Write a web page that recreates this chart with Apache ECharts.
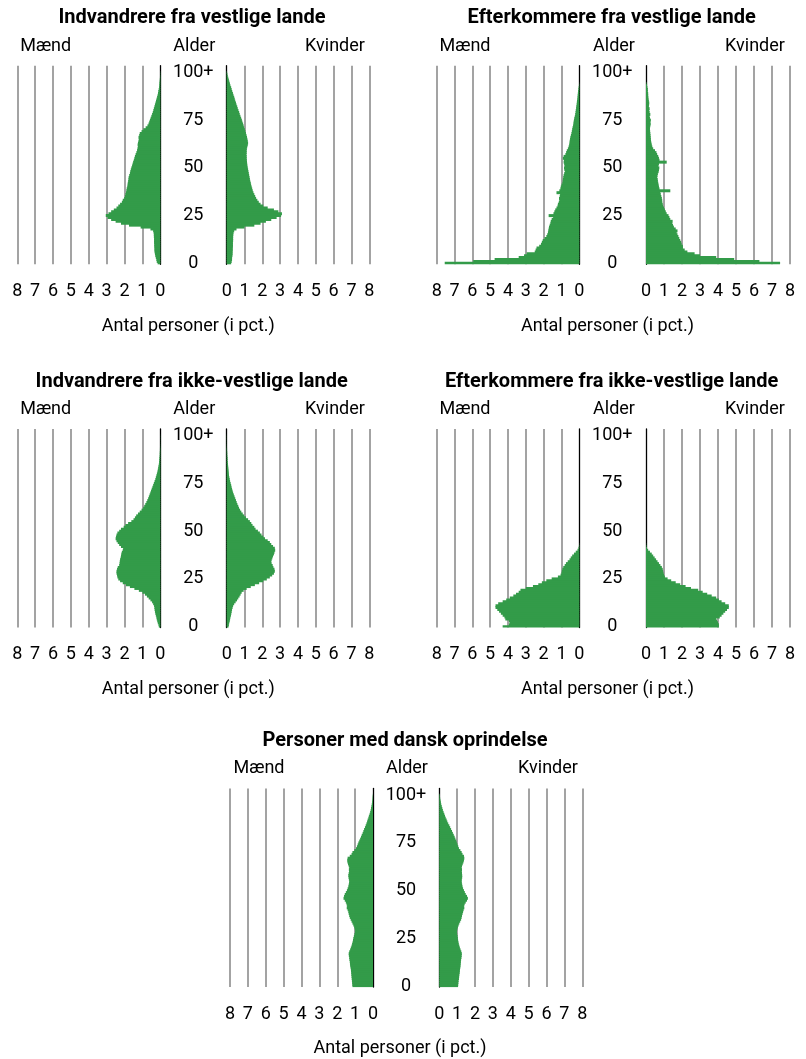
<!DOCTYPE html>
<html>
<head>
<meta charset="utf-8">
<script src="https://cdn.jsdelivr.net/npm/echarts@6/dist/echarts.min.js"></script>
<style>
html,body{margin:0;padding:0;background:#fff;}
#c{width:806px;height:1059px;}
</style>
</head>
<body>
<div id="c"></div>
<script>
// ---------- DATA ----------
var ages = [];
for (var a = 0; a <= 100; a++) ages.push(a === 100 ? '100+' : String(a));
var xTicks = [0, 1, 2, 3, 4, 5, 6, 7, 8];
var titles = ['Indvandrere fra vestlige lande', 'Efterkommere fra vestlige lande',
  'Indvandrere fra ikke-vestlige lande', 'Efterkommere fra ikke-vestlige lande',
  'Personer med dansk oprindelse'];
var labelMale = 'Mænd', labelAge = 'Alder', labelFemale = 'Kvinder', labelX = 'Antal personer (i pct.)';

var p1Male = [0.15,0.2,0.22,0.25,0.28,0.3,0.32,0.33,0.33,0.34,
0.34,0.35,0.35,0.35,0.36,0.36,0.37,0.4,0.55,1.1,
1.75,2.2,2.5,2.75,2.95,3.05,2.9,2.75,2.6,2.45,
2.35,2.25,2.15,2.1,2.02,1.98,1.95,1.92,1.9,1.88,
1.85,1.83,1.82,1.8,1.78,1.77,1.74,1.7,1.68,1.65,
1.62,1.58,1.55,1.52,1.48,1.45,1.42,1.38,1.34,1.3,
1.28,1.25,1.27,1.25,1.22,1.2,1.22,1.18,1.15,1.05,
0.95,0.82,0.72,0.66,0.62,0.58,0.54,0.5,0.46,0.42,
0.39,0.36,0.33,0.3,0.27,0.24,0.21,0.18,0.15,0.13,
0.11,0.09,0.07,0.06,0.05,0.04,0.03,0.02,0.015,0.01,
0.01];
var p1Female = [0.25,0.28,0.3,0.3,0.32,0.33,0.33,0.34,0.34,0.35,
0.35,0.35,0.36,0.36,0.36,0.37,0.38,0.42,0.55,1.0,
1.55,1.9,2.2,2.5,2.8,3.05,3.1,2.9,2.65,2.3,
2.05,1.9,1.8,1.72,1.65,1.6,1.55,1.5,1.46,1.43,
1.4,1.37,1.35,1.32,1.3,1.28,1.26,1.24,1.22,1.2,
1.18,1.16,1.15,1.14,1.13,1.12,1.12,1.11,1.12,1.12,
1.13,1.15,1.18,1.2,1.18,1.16,1.14,1.11,1.08,1.05,
1.02,0.98,0.95,0.92,0.88,0.85,0.81,0.77,0.73,0.7,
0.66,0.62,0.59,0.55,0.52,0.48,0.45,0.42,0.38,0.35,
0.31,0.28,0.25,0.21,0.18,0.15,0.12,0.09,0.06,0.04,
0.02];
var p2Male = [7.55,5.95,4.75,3.4,3.1,2.95,2.5,2.45,2.4,2.25,
2.15,2.1,2.05,1.95,1.85,1.8,1.76,1.74,1.72,1.7,
1.66,1.62,1.6,1.55,1.47,1.72,1.45,1.4,1.35,1.28,
1.22,1.2,1.15,1.12,1.14,1.1,1.08,1.28,1.12,1.06,
1.04,1.0,0.95,0.93,0.92,0.9,0.88,0.85,0.8,0.84,
0.86,0.82,0.85,0.88,0.86,0.92,0.88,0.78,0.74,0.7,
0.64,0.6,0.57,0.55,0.54,0.52,0.5,0.47,0.44,0.42,
0.4,0.38,0.35,0.33,0.32,0.3,0.28,0.25,0.23,0.21,
0.2,0.18,0.17,0.15,0.14,0.13,0.11,0.1,0.09,0.08,
0.07,0.05,0.04,0.02,0.01,0,0,0,0,0,
0];
var p2Female = [7.45,6.3,4.9,3.9,3.0,2.7,2.3,2.15,2.05,2.05,
1.98,1.95,1.9,1.85,1.8,1.75,1.7,1.75,1.65,1.55,
1.5,1.45,1.48,1.35,1.3,1.25,1.15,1.1,1.05,1.0,
0.95,0.93,0.9,0.9,0.88,0.85,0.82,0.8,1.35,0.75,
0.72,0.7,0.68,0.66,0.65,0.62,0.64,0.66,0.7,0.72,
0.74,0.68,0.72,1.15,0.75,0.72,0.68,0.62,0.58,0.5,
0.4,0.35,0.32,0.3,0.28,0.27,0.26,0.25,0.24,0.23,
0.22,0.22,0.24,0.26,0.24,0.27,0.22,0.2,0.24,0.2,
0.18,0.2,0.16,0.17,0.18,0.16,0.14,0.13,0.12,0.12,
0.1,0.1,0.08,0.06,0.03,0,0,0,0,0,
0];
var p3Male = [0.08,0.1,0.14,0.17,0.2,0.22,0.25,0.28,0.3,0.32,
0.33,0.35,0.4,0.46,0.55,0.65,0.75,0.86,1.0,1.2,
1.45,1.7,1.92,2.1,2.25,2.35,2.4,2.42,2.45,2.45,
2.42,2.38,2.3,2.28,2.27,2.25,2.22,2.2,2.18,2.15,
2.1,2.08,2.2,2.3,2.38,2.45,2.5,2.48,2.45,2.4,
2.3,2.2,2.05,1.95,1.8,1.62,1.5,1.42,1.35,1.25,
1.15,1.05,0.96,0.9,0.84,0.78,0.73,0.68,0.64,0.6,
0.56,0.52,0.48,0.44,0.4,0.36,0.32,0.28,0.25,0.22,
0.19,0.16,0.14,0.12,0.1,0.08,0.07,0.06,0.05,0.04,
0.03,0.03,0.02,0.02,0.01,0.01,0.005,0.005,0.005,0.005,
0.005];
var p3Female = [0.1,0.12,0.14,0.17,0.19,0.21,0.24,0.26,0.28,0.3,
0.33,0.36,0.42,0.5,0.58,0.65,0.72,0.78,0.84,0.95,
1.12,1.35,1.58,1.82,2.05,2.25,2.42,2.55,2.65,2.7,
2.68,2.62,2.58,2.52,2.5,2.52,2.56,2.6,2.65,2.68,
2.72,2.7,2.6,2.5,2.42,2.3,2.15,2.05,1.95,1.86,
1.75,1.62,1.55,1.45,1.38,1.3,1.2,1.08,0.98,0.9,
0.82,0.75,0.69,0.65,0.6,0.56,0.52,0.48,0.44,0.4,
0.36,0.33,0.3,0.27,0.25,0.22,0.19,0.17,0.15,0.13,
0.12,0.11,0.1,0.09,0.08,0.07,0.06,0.05,0.05,0.04,
0.03,0.03,0.02,0.02,0.01,0.01,0.005,0.005,0.005,0.005,
0.005];
var p4Male = [4.3,3.95,3.9,3.95,4.15,4.2,4.3,4.4,4.5,4.6,
4.7,4.7,4.55,4.3,4.1,3.9,3.7,3.55,3.4,3.3,
3.0,2.6,2.3,2.1,1.85,1.55,1.2,1.05,1.0,0.98,
0.95,0.9,0.82,0.75,0.65,0.55,0.48,0.4,0.3,0.2,
0.1,0.05,0.02,0.01,0,0,0,0,0,0,
0,0,0,0,0,0,0,0,0,0,
0,0,0,0,0,0,0,0,0,0,
0,0,0,0,0,0,0,0,0,0,
0,0,0,0,0,0,0,0,0,0,
0,0,0,0,0,0,0,0,0,0,
0];
var p4Female = [4.05,4.05,4.0,3.95,3.9,4.1,4.2,4.3,4.4,4.5,
4.6,4.6,4.4,4.2,4.05,3.9,3.65,3.4,3.15,2.9,
2.5,2.2,1.9,1.65,1.4,1.2,1.05,1.0,0.97,0.95,
0.93,0.88,0.8,0.72,0.64,0.56,0.48,0.4,0.32,0.22,
0.12,0.05,0.02,0.01,0,0,0,0,0,0,
0,0,0,0,0,0,0,0,0,0,
0,0,0,0,0,0,0,0,0,0,
0,0,0,0,0,0,0,0,0,0,
0,0,0,0,0,0,0,0,0,0,
0,0,0,0,0,0,0,0,0,0,
0];
var p5Male = [1.15,1.16,1.17,1.18,1.19,1.2,1.21,1.22,1.23,1.24,
1.26,1.28,1.29,1.3,1.32,1.33,1.35,1.36,1.33,1.28,
1.24,1.2,1.17,1.14,1.12,1.1,1.07,1.04,1.01,1.0,
1.02,1.05,1.1,1.15,1.2,1.25,1.3,1.33,1.36,1.38,
1.42,1.47,1.45,1.48,1.52,1.58,1.65,1.62,1.58,1.52,
1.46,1.42,1.38,1.36,1.34,1.33,1.35,1.37,1.38,1.36,
1.34,1.35,1.33,1.36,1.4,1.43,1.44,1.42,1.3,1.2,
1.15,1.05,0.95,0.9,0.86,0.82,0.77,0.72,0.67,0.63,
0.58,0.54,0.5,0.45,0.41,0.37,0.33,0.3,0.26,0.23,
0.19,0.16,0.13,0.11,0.09,0.07,0.05,0.04,0.03,0.02,
0.01];
var p5Female = [1.05,1.06,1.07,1.08,1.1,1.11,1.12,1.14,1.15,1.16,
1.18,1.19,1.2,1.21,1.22,1.24,1.25,1.26,1.23,1.19,
1.15,1.12,1.09,1.07,1.05,1.04,1.02,1.0,0.99,0.99,
1.01,1.04,1.08,1.12,1.17,1.22,1.25,1.27,1.3,1.33,
1.36,1.4,1.38,1.42,1.48,1.55,1.6,1.55,1.48,1.43,
1.38,1.33,1.3,1.28,1.26,1.25,1.26,1.28,1.28,1.27,
1.26,1.27,1.25,1.27,1.31,1.35,1.38,1.4,1.38,1.3,
1.25,1.18,1.1,1.06,1.02,0.98,0.95,0.9,0.86,0.81,
0.76,0.71,0.66,0.61,0.56,0.5,0.45,0.41,0.36,0.32,
0.28,0.24,0.2,0.17,0.14,0.11,0.09,0.07,0.05,0.03,
0.03];

var maleSeries = [p1Male, p2Male, p3Male, p4Male, p5Male];
var femaleSeries = [p1Female, p2Female, p3Female, p4Female, p5Female];

// ---------- LAYOUT ----------
(function () {
var rowOff = [0, 0, 363.3, 363.3, 722.8];
var layout = [
  {mL:17.3, mR:160.3, fL:226.7, fR:369.3, tX:192, mX:45.7, aX:194.3, kX:335, xX:188.3},
  {mL:436.7, mR:579.3, fL:646, fR:790, tX:611.7, mX:465, aX:614, kX:755, xX:607.5},
  {mL:17.3, mR:160.3, fL:226.7, fR:369.3, tX:191.7, mX:45.7, aX:194.3, kX:335, xX:188.3},
  {mL:436.7, mR:579.3, fL:646, fR:790, tX:611.7, mX:465, aX:614, kX:755, xX:607.5},
  {mL:230, mR:373, fL:439.3, fR:582.3, tX:405, mX:259, aX:407, kX:548, xX:400}
];
var GTOP = 65.7, GH = 198.6;
var GREEN = '#339b49', GRAY = '#a3a3a3', FONT = 'Roboto';
var cats = ages.concat(['', '', '']);

var grids = [], xAxes = [], yAxes = [], series = [], graphics = [];

function addHalf(left, right, gTop, isMale, data) {
  var gi = grids.length;
  var splitColors = ['rgba(0,0,0,0)', GRAY, GRAY, GRAY, GRAY, GRAY, GRAY, GRAY, GRAY];
  grids.push({left: left, top: gTop, width: right - left, height: GH});
  xAxes.push({
    gridIndex: gi, type: 'value', min: xTicks[0], max: xTicks[xTicks.length - 1], interval: 1,
    inverse: isMale,
    axisLine: {show: false}, axisTick: {show: false},
    splitLine: {show: true, lineStyle: {color: splitColors, width: 2}},
    axisLabel: {show: true, margin: 18, color: '#000', fontFamily: FONT, fontSize: 18}
  });
  yAxes.push({
    gridIndex: gi, type: 'category', data: cats.slice(), position: isMale ? 'right' : 'left',
    axisLine: {show: true, onZero: false, lineStyle: {color: '#000', width: 1.3}},
    axisTick: {show: false}, splitLine: {show: false},
    axisLabel: isMale ? {
      show: true, margin: 33, align: 'center', color: '#000', fontFamily: FONT, fontSize: 18,
      interval: function (i) { return i % 25 === 0 && i <= 100; }
    } : {show: false}
  });
  series.push({
    type: 'bar', xAxisIndex: gi, yAxisIndex: gi, data: data.slice(),
    barWidth: 3, silent: true, z: 1,
    itemStyle: {color: GREEN}
  });
}

function txt(x, y, s, bold) {
  graphics.push({type: 'text', x: x, y: y, silent: true, style: {
    text: s, fill: '#000', font: (bold ? 'bold 20px ' : '18px ') + FONT,
    textAlign: 'center', textVerticalAlign: 'middle'
  }});
}

for (var p = 0; p < 5; p++) {
  var L = layout[p], o = rowOff[p], gTop = GTOP + o;
  addHalf(L.mL, L.mR, gTop, true, maleSeries[p]);
  addHalf(L.fL, L.fR, gTop, false, femaleSeries[p]);
  txt(L.tX, 18.3 + o, titles[p], true);
  txt(L.mX, 46 + o, labelMale, false);
  txt(L.aX, 46 + o, labelAge, false);
  txt(L.kX, 46 + o, labelFemale, false);
  txt(L.xX, 326 + o, labelX, false);
}

var chart = echarts.init(document.getElementById('c'), null, {renderer: 'canvas'});
chart.setOption({
  animation: false,
  backgroundColor: '#fff',
  grid: grids, xAxis: xAxes, yAxis: yAxes, series: series,
  graphic: graphics
});
})();
</script>
</body>
</html>
